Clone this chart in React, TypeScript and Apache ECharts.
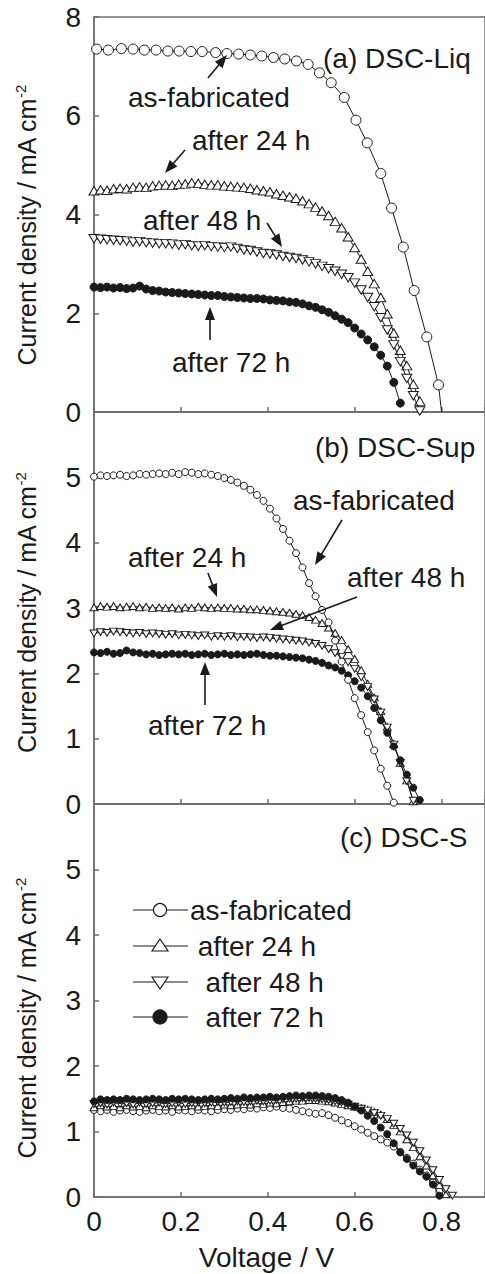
import React, { useEffect, useRef } from "react";
import * as echarts from "echarts";

// Shared voltage grid (V) for the densely sampled curves
const V_GRID = [
  0, 0.015, 0.03, 0.045, 0.06, 0.075, 0.09, 0.105, 0.12, 0.135,
  0.15, 0.165, 0.18, 0.195, 0.21, 0.225, 0.24, 0.255, 0.27, 0.285,
  0.3, 0.315, 0.33, 0.345, 0.36, 0.375, 0.39, 0.405, 0.42, 0.435,
  0.45, 0.465, 0.48, 0.495, 0.51, 0.525, 0.54, 0.555, 0.57, 0.585,
  0.6, 0.615, 0.63, 0.645, 0.66, 0.675, 0.69, 0.705, 0.72, 0.735,
  0.75, 0.765, 0.78, 0.795, 0.81, 0.825,
];

// (a) DSC-Liq
const V_A_FAB = [
  0.006, 0.033, 0.063, 0.09, 0.116, 0.143, 0.17, 0.196, 0.223, 0.249,
  0.28, 0.306, 0.333, 0.36, 0.386, 0.413, 0.439, 0.466, 0.493, 0.519,
  0.546, 0.576, 0.603, 0.629, 0.66, 0.685, 0.712, 0.737, 0.766, 0.793, 0.8,
];
const J_A_FAB = [
  7.35, 7.33, 7.36, 7.35, 7.33, 7.33, 7.31, 7.31, 7.3, 7.3,
  7.28, 7.26, 7.25, 7.23, 7.21, 7.18, 7.15, 7.11, 7.04, 6.87,
  6.67, 6.37, 5.91, 5.45, 4.83, 4.13, 3.34, 2.46, 1.52, 0.55, 0,
];
const J_A_24H = [
  4.48, 4.5, 4.49, 4.52, 4.53, 4.52, 4.55, 4.56, 4.55, 4.58,
  4.59, 4.6, 4.59, 4.61, 4.62, 4.64, 4.63, 4.61, 4.6, 4.6,
  4.58, 4.57, 4.56, 4.55, 4.53, 4.5, 4.48, 4.46, 4.42, 4.39,
  4.36, 4.33, 4.28, 4.22, 4.15, 4.07, 3.98, 3.86, 3.73, 3.55,
  3.33, 3.1, 2.85, 2.6, 2.32, 1.99, 1.6, 1.25, 0.94, 0.56,
  0.22,
];
const J_A_48H = [
  3.51, 3.5, 3.49, 3.48, 3.47, 3.46, 3.44, 3.45, 3.43, 3.42,
  3.41, 3.41, 3.4, 3.38, 3.39, 3.37, 3.36, 3.37, 3.35, 3.34,
  3.33, 3.34, 3.31, 3.28, 3.27, 3.24, 3.21, 3.2, 3.18, 3.15,
  3.13, 3.11, 3.08, 3.04, 3.0, 2.95, 2.9, 2.85, 2.79, 2.72,
  2.61, 2.47, 2.32, 2.13, 1.91, 1.66, 1.36, 1.02, 0.68, 0.33,
  0.02,
];
const J_A_72H = [
  2.53, 2.52, 2.53, 2.51, 2.52, 2.5, 2.51, 2.55, 2.49, 2.46,
  2.45, 2.43, 2.42, 2.41, 2.4, 2.39, 2.38, 2.37, 2.36, 2.36,
  2.34, 2.33, 2.32, 2.31, 2.3, 2.3, 2.29, 2.27, 2.26, 2.25,
  2.23, 2.22, 2.19, 2.15, 2.12, 2.07, 2.02, 1.95, 1.88, 1.81,
  1.7, 1.58, 1.46, 1.32, 1.15, 0.93, 0.6, 0.18,
];

// (b) DSC-Sup
const J_B_FAB = [
  5.01, 5.03, 5.02, 5.03, 5.04, 5.02, 5.03, 5.05, 5.04, 5.05,
  5.06, 5.05, 5.07, 5.05, 5.08, 5.07, 5.05, 5.06, 5.04, 5.02,
  4.99, 4.96, 4.92, 4.87, 4.81, 4.73, 4.64, 4.52, 4.37, 4.21,
  4.03, 3.84, 3.62, 3.38, 3.18, 2.97, 2.78, 2.5, 2.18, 1.9,
  1.62, 1.36, 1.1, 0.82, 0.54, 0.28, 0.02,
];
const J_B_24H = [
  3.01, 3.03, 3.02, 3.03, 3.01, 3.02, 3.03, 3.01, 3.02, 3.0,
  3.01, 3.0, 3.01, 2.99, 3.01, 3.0, 3.02, 3.01, 3.0, 3.01,
  3.0, 3.0, 2.99, 2.99, 2.98, 2.98, 2.97, 2.96, 2.95, 2.94,
  2.93, 2.91, 2.89, 2.86, 2.82, 2.77, 2.7, 2.62, 2.51, 2.37,
  2.22, 2.05, 1.84, 1.63, 1.42, 1.18, 0.92, 0.63, 0.36, 0.04,
];
const J_B_48H = [
  2.61, 2.63, 2.62, 2.64, 2.63, 2.62, 2.61, 2.62, 2.6, 2.61,
  2.6, 2.59, 2.6, 2.58, 2.59, 2.58, 2.57, 2.58, 2.56, 2.57,
  2.56, 2.57, 2.55, 2.56, 2.55, 2.54, 2.55, 2.54, 2.53, 2.52,
  2.51, 2.5, 2.49, 2.47, 2.45, 2.42, 2.37, 2.31, 2.25, 2.17,
  2.07, 1.94, 1.79, 1.6, 1.4, 1.17, 0.91, 0.63, 0.35, 0.05,
];
const J_B_72H = [
  2.32, 2.31, 2.33, 2.3, 2.31, 2.35, 2.32, 2.31, 2.29, 2.3,
  2.28, 2.29, 2.3, 2.29, 2.3, 2.28, 2.29, 2.3, 2.28, 2.29,
  2.3, 2.28, 2.29, 2.28, 2.29, 2.3, 2.28, 2.27, 2.27, 2.26,
  2.25, 2.24, 2.23, 2.21, 2.19, 2.16, 2.12, 2.09, 2.04, 1.97,
  1.88, 1.78, 1.65, 1.47, 1.28, 1.09, 0.88, 0.67, 0.45, 0.25,
  0.06,
];

// (c) DSC-S
const J_C_FAB = [
  1.33, 1.31, 1.33, 1.3, 1.32, 1.33, 1.31, 1.3, 1.32, 1.33,
  1.31, 1.32, 1.3, 1.33, 1.32, 1.31, 1.33, 1.32, 1.31, 1.33,
  1.34, 1.33, 1.35, 1.34, 1.36, 1.35, 1.37, 1.36, 1.38, 1.36,
  1.35, 1.33, 1.31, 1.29, 1.27, 1.28, 1.25, 1.21, 1.17, 1.13,
  1.08, 1.03, 0.98, 0.93, 0.88, 0.83, 0.77, 0.69, 0.6, 0.51,
  0.42, 0.33, 0.22, 0.08,
];
const J_C_24H = [
  1.37, 1.4, 1.38, 1.39, 1.37, 1.4, 1.38, 1.39, 1.37, 1.4,
  1.39, 1.38, 1.4, 1.38, 1.39, 1.4, 1.38, 1.39, 1.4, 1.39,
  1.41, 1.4, 1.41, 1.42, 1.41, 1.43, 1.42, 1.44, 1.43, 1.45,
  1.46, 1.47, 1.47, 1.48, 1.48, 1.47, 1.46, 1.44, 1.42, 1.4,
  1.38, 1.36, 1.33, 1.3, 1.26, 1.19, 1.1, 1.0, 0.88, 0.76,
  0.62, 0.48, 0.33, 0.18, 0.04,
];
const J_C_48H = [
  1.42, 1.43, 1.41, 1.44, 1.42, 1.43, 1.41, 1.44, 1.42, 1.43,
  1.44, 1.42, 1.43, 1.44, 1.42, 1.43, 1.44, 1.43, 1.44, 1.45,
  1.44, 1.45, 1.46, 1.45, 1.46, 1.47, 1.46, 1.47, 1.48, 1.49,
  1.5, 1.5, 1.51, 1.51, 1.5, 1.49, 1.48, 1.46, 1.44, 1.41,
  1.38, 1.35, 1.32, 1.28, 1.24, 1.19, 1.12, 1.04, 0.94, 0.83,
  0.7, 0.56, 0.41, 0.26, 0.12, 0.02,
];
const J_C_72H = [
  1.46, 1.49, 1.48, 1.49, 1.48, 1.5, 1.49, 1.48, 1.49, 1.5,
  1.49, 1.48, 1.5, 1.49, 1.5, 1.49, 1.48, 1.49, 1.5, 1.49,
  1.5, 1.51, 1.5, 1.52, 1.51, 1.52, 1.52, 1.53, 1.52, 1.53,
  1.54, 1.55, 1.54, 1.55, 1.55, 1.54, 1.53, 1.51, 1.48, 1.44,
  1.38, 1.32, 1.24, 1.16, 1.06, 0.96, 0.82, 0.68, 0.58, 0.48,
  0.39, 0.31, 0.19, 0.02,
];

const SERIES_NAMES = ["as-fabricated", "after 24 h", "after 48 h", "after 72 h"];
const PANEL_TITLES = ["(a) DSC-Liq", "(b) DSC-Sup", "(c) DSC-S"];
const Y_MAX = [8, 6, 6];
const Y_INTERVAL = [2, 1, 1];
const X_MIN = 0;
const X_MAX = 0.9;
const X_INTERVAL = 0.2;

const FONT = "'Liberation Sans', Arial, Helvetica, sans-serif";
const AXIS_COLOR = "#6e6e6e";
const INK = "#1a1a1a";

type Kind = "open" | "up" | "down" | "filled";

function onGrid(J: number[]) {
  return J.map((j, i) => [V_GRID[i], j]);
}

function makeSeries(name: string, data: any[], panel: number, kind: Kind, size: number, z: number) {
  return {
    type: "line",
    name,
    xAxisIndex: panel,
    yAxisIndex: panel,
    data,
    symbol: kind === "up" || kind === "down" ? "triangle" : "circle",
    symbolRotate: kind === "down" ? 180 : 0,
    symbolSize: kind === "up" || kind === "down" ? [size, size * 0.85] : size,
    showSymbol: true,
    lineStyle: { color: INK, width: 1 },
    itemStyle: {
      color: kind === "filled" ? INK : "#ffffff",
      borderColor: INK,
      borderWidth: 1,
    },
    emphasis: { disabled: true },
    silent: true,
    z,
  };
}

function arrow(x1: number, y1: number, x2: number, y2: number) {
  const dx = x2 - x1;
  const dy = y2 - y1;
  const L = Math.hypot(dx, dy);
  const ux = dx / L;
  const uy = dy / L;
  const hl = 13;
  const hw = 5;
  const bx = x2 - ux * hl;
  const by = y2 - uy * hl;
  return [
    {
      type: "line",
      silent: true,
      shape: { x1, y1, x2: bx + ux * 2, y2: by + uy * 2 },
      style: { stroke: INK, lineWidth: 1.6 },
      z: 50,
    },
    {
      type: "polygon",
      silent: true,
      shape: {
        points: [
          [x2, y2],
          [bx - uy * hw, by + ux * hw],
          [bx + uy * hw, by - ux * hw],
        ],
      },
      style: { fill: INK },
      z: 50,
    },
  ];
}

function label(text: string, x: number, y: number) {
  return {
    type: "text",
    silent: true,
    x,
    y,
    z: 50,
    style: {
      text,
      fill: INK,
      fontSize: 28,
      fontFamily: FONT,
      align: "left",
      verticalAlign: "middle",
    },
  };
}

function legendRow(kind: Kind, text: string, y: number, textX: number) {
  const items: any[] = [
    {
      type: "line",
      silent: true,
      shape: { x1: 133, y1: y, x2: 188, y2: y },
      style: { stroke: INK, lineWidth: 1.2 },
      z: 50,
    },
  ];
  const cx = 160;
  if (kind === "open" || kind === "filled") {
    items.push({
      type: "circle",
      silent: true,
      shape: { cx, cy: y, r: kind === "filled" ? 7 : 6.5 },
      style: { fill: kind === "filled" ? INK : "#fff", stroke: INK, lineWidth: 1.2 },
      z: 51,
    });
  } else if (kind === "up") {
    items.push({
      type: "polygon",
      silent: true,
      shape: { points: [[cx - 8, y + 5], [cx + 8, y + 5], [cx, y - 7]] },
      style: { fill: "#fff", stroke: INK, lineWidth: 1.2 },
      z: 51,
    });
  } else {
    items.push({
      type: "polygon",
      silent: true,
      shape: { points: [[cx - 8, y - 5], [cx + 8, y - 5], [cx, y + 7]] },
      style: { fill: "#fff", stroke: INK, lineWidth: 1.2 },
      z: 51,
    });
  }
  items.push(label(text, textX, y));
  return items;
}

const GRID_TOPS = [17, 412, 804];
const GRID_HEIGHTS = [395, 392, 393];
const NAME_PADDING = [
  [0, 22, 0, 0],
  [0, 10, 0, 0],
  [0, 36, 0, 0],
];

export default function App() {
  const ref = useRef<HTMLDivElement>(null);

  useEffect(() => {
    if (!ref.current) return;
    const chart = echarts.init(ref.current, null, { renderer: "svg" });

    const grids = [0, 1, 2].map((i) => ({
      left: 94,
      top: GRID_TOPS[i],
      width: 394,
      height: GRID_HEIGHTS[i],
      show: true,
      borderColor: AXIS_COLOR,
      borderWidth: 1.5,
      backgroundColor: "transparent",
    }));

    const xAxes = [0, 1, 2].map((i) => ({
      type: "value",
      gridIndex: i,
      min: X_MIN,
      max: X_MAX,
      interval: X_INTERVAL,
      axisLine: { show: true, onZero: false, lineStyle: { color: AXIS_COLOR, width: 1.5 } },
      axisTick: { show: true, inside: true, length: 5, lineStyle: { color: AXIS_COLOR, width: 1.5 } },
      splitLine: { show: false },
      axisLabel: {
        show: i === 2,
        showMaxLabel: false,
        margin: 10,
        fontSize: 28,
        fontFamily: FONT,
        color: INK,
        formatter: (v: number) => String(Math.round(v * 10) / 10),
      },
      name: i === 2 ? "Voltage / V" : "",
      nameLocation: "middle",
      nameGap: 46,
      nameTextStyle: {
        fontSize: 28,
        fontFamily: FONT,
        color: INK,
        padding: [0, 46, 0, 0],
      },
    }));

    const yAxes = [0, 1, 2].map((i) => ({
      type: "value",
      gridIndex: i,
      min: 0,
      max: Y_MAX[i],
      interval: Y_INTERVAL[i],
      axisLine: { show: true, lineStyle: { color: AXIS_COLOR, width: 1.5 } },
      axisTick: { show: true, inside: true, length: 5, lineStyle: { color: AXIS_COLOR, width: 1.5 } },
      splitLine: { show: false },
      axisLabel: {
        show: true,
        showMaxLabel: i === 0,
        margin: 13,
        fontSize: 28,
        fontFamily: FONT,
        color: INK,
      },
      name: "Current density / mA cm{sup|-2}",
      nameLocation: "middle",
      nameGap: 54,
      nameRotate: 90,
      nameTextStyle: {
        fontSize: 25,
        fontFamily: FONT,
        color: INK,
        padding: NAME_PADDING[i],
        rich: {
          sup: { fontSize: 15, fontFamily: FONT, color: INK, padding: [0, 0, 12, 0] },
        },
      },
    }));

    const series = [
      // (a)
      makeSeries(
        SERIES_NAMES[0],
        J_A_FAB.map((j, i) =>
          i === J_A_FAB.length - 1 ? { value: [V_A_FAB[i], j], symbol: "none" } : [V_A_FAB[i], j]
        ),
        0, "open", 10, 2
      ),
      makeSeries(SERIES_NAMES[1], onGrid(J_A_24H), 0, "up", 10, 3),
      makeSeries(SERIES_NAMES[2], onGrid(J_A_48H), 0, "down", 10, 4),
      makeSeries(SERIES_NAMES[3], onGrid(J_A_72H), 0, "filled", 8, 5),
      // (b)
      makeSeries(SERIES_NAMES[1], onGrid(J_B_24H), 1, "up", 8, 3),
      makeSeries(SERIES_NAMES[2], onGrid(J_B_48H), 1, "down", 8, 4),
      makeSeries(SERIES_NAMES[3], onGrid(J_B_72H), 1, "filled", 7, 5),
      makeSeries(SERIES_NAMES[0], onGrid(J_B_FAB), 1, "open", 7, 6),
      // (c)
      makeSeries(SERIES_NAMES[0], onGrid(J_C_FAB), 2, "open", 7, 2),
      makeSeries(SERIES_NAMES[1], onGrid(J_C_24H), 2, "up", 8, 3),
      makeSeries(SERIES_NAMES[2], onGrid(J_C_48H), 2, "down", 8, 4),
      makeSeries(SERIES_NAMES[3], onGrid(J_C_72H), 2, "filled", 7, 5),
    ];

    const graphic: any[] = [
      // panel (a)
      label(PANEL_TITLES[0], 323, 58),
      label(SERIES_NAMES[0], 128, 97),
      ...arrow(208, 78, 227, 55),
      label(SERIES_NAMES[1], 192, 140),
      ...arrow(185, 150, 165, 173),
      label(SERIES_NAMES[2], 143, 220),
      ...arrow(267, 223, 282, 247),
      label(SERIES_NAMES[3], 172, 362),
      ...arrow(210, 340, 210, 307),
      // panel (b)
      label(PANEL_TITLES[1], 315, 447),
      label(SERIES_NAMES[0], 293, 500),
      ...arrow(342, 520, 315, 565),
      label(SERIES_NAMES[1], 128, 557),
      ...arrow(208, 573, 217, 597),
      label(SERIES_NAMES[2], 347, 577),
      ...arrow(357, 597, 270, 630),
      label(SERIES_NAMES[3], 148, 725),
      ...arrow(205, 705, 205, 662),
      // panel (c)
      label(PANEL_TITLES[2], 340, 837),
      ...legendRow("open", SERIES_NAMES[0], 910, 190),
      ...legendRow("up", " " + SERIES_NAMES[1], 946, 190),
      ...legendRow("down", "  " + SERIES_NAMES[2], 982, 190),
      ...legendRow("filled", "  " + SERIES_NAMES[3], 1017, 190),
    ];

    chart.setOption({
      animation: false,
      backgroundColor: "#ffffff",
      textStyle: { fontFamily: FONT },
      grid: grids,
      xAxis: xAxes,
      yAxis: yAxes,
      series,
      graphic,
    });

    return () => chart.dispose();
  }, []);

  return (
    <div
      ref={ref}
      style={{ position: "absolute", left: 0, top: 0, width: 485, height: 1274, background: "#fff" }}
    />
  );
}
